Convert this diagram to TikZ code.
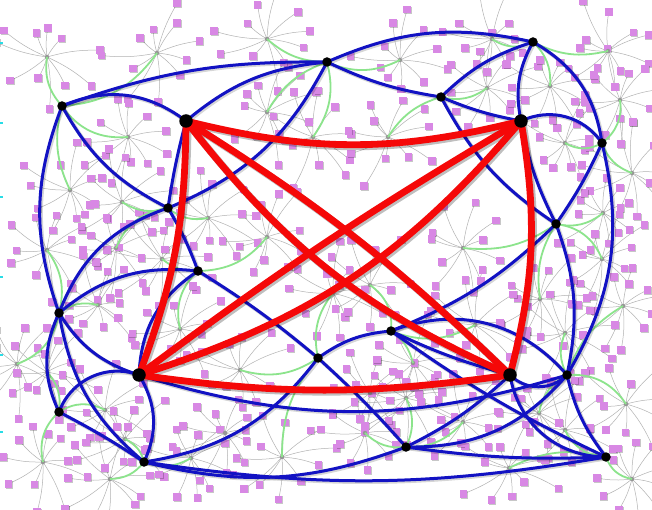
\documentclass[tikz,border=0pt]{standalone}
\usetikzlibrary{shadows}
\definecolor{sqpink}{RGB}{216,136,228}
\definecolor{bluE}{RGB}{18,18,195}
\definecolor{reD}{RGB}{245,8,8}
\definecolor{grn}{RGB}{140,228,140}
\definecolor{hubgray}{RGB}{150,150,150}
\definecolor{lgray}{RGB}{178,178,178}
\definecolor{tickc}{RGB}{40,220,230}
\begin{document}
\begin{tikzpicture}[x=1pt,y=1pt,
  hubline/.style={draw=lgray, line width=0.5pt},
  sq/.style={rectangle, fill=sqpink, minimum size=7.6pt, inner sep=0pt,
    drop shadow={shadow xshift=0.9pt, shadow yshift=-0.9pt, fill=black, opacity=0.22}},
  grnline/.style={draw=grn, line width=1.8pt},
  blueline/.style={draw=bluE, line width=3pt},
  blueshadow/.style={draw=black, opacity=0.16, line width=3.8pt},
  redline/.style={draw=reD, line width=6.8pt},
  redshadow/.style={draw=black, opacity=0.25, line width=7.4pt},
  dot/.style={circle, fill=black, minimum size=9.5pt, inner sep=0pt},
  bigdot/.style={circle, fill=black, minimum size=13.5pt, inner sep=0pt},
  hubdot/.style={circle, fill=hubgray, minimum size=4.5pt, inner sep=0pt}]
\useasboundingbox (0,-510) rectangle (652,0);
\fill[white] (0,-510) rectangle (652,0);
\clip (0,-510) rectangle (652,0);
\pgfmathsetseed{4711}
% hubs and their leaves (gray lines)
\foreach \hx/\hy [count=\i] in {47/57,157/53,128/137,267/39,400/60,267/112,313/137,388/137,492/39,608/51,
  487/88,550/86,620/100,565/143,70/190,122/202,47/250,116/248,162/259,208/218,
  98/305,180/329,267/237,333/293,370/285,463/248,603/213,632/173,602/259,540/299,
  623/306,475/325,565/333,17/364,47/372,105/410,125/439,43/462,110/479,191/458,
  240/370,225/433,282/457,365/433,370/393,406/398,413/363,539/413,565/430,463/422,
  509/468,626/404,632/479}{
  \coordinate (h\i) at (\hx,-\hy);
  \foreach \k in {1,...,11}{
    \pgfmathsetmacro\ang{\k*32.7+rnd*24}
    \pgfmathsetmacro\rad{20+rnd*36}
    \path (h\i) ++(\ang:\rad) coordinate (s\i-\k);
    \draw[hubline] (h\i) to[bend left=8] (s\i-\k);
  }
}
\foreach \i in {1,...,53}{
  \foreach \k in {1,...,11}{ \node[sq] (q\i-\k) at (s\i-\k) {}; }
}
\foreach \i in {1,...,53}{ \node[hubdot] (hd\i) at (h\i) {}; }
% cyan ticks at left edge
\foreach \y in {43,123,197,277,355,432}{ \fill[tickc] (0,-\y-1) rectangle (3,-\y+1); }
% main nodes
\coordinate (R1) at (186,-121);
\coordinate (R2) at (521,-121);
\coordinate (R3) at (139,-375);
\coordinate (R4) at (510,-375);
\coordinate (B1) at (62,-106);
\coordinate (B2) at (327,-62);
\coordinate (B3) at (533,-42);
\coordinate (B4) at (441,-97);
\coordinate (B5) at (602,-143);
\coordinate (B6) at (168,-208);
\coordinate (B7) at (198,-271);
\coordinate (B8) at (556,-224);
\coordinate (B9) at (59,-313);
\coordinate (B10) at (391,-331);
\coordinate (B11) at (318,-358);
\coordinate (B12) at (567,-375);
\coordinate (B13) at (59,-412);
\coordinate (B14) at (144,-462);
\coordinate (B15) at (406,-447);
\coordinate (B16) at (606,-457);
% green curves
\foreach \a/\b/\t in {h1/B1/-25,h2/B1/25,h3/B1/30,h4/B2/-20,h5/B2/25,h6/B2/20,h7/B2/-25,h8/B4/20,
  h9/B3/-30,h10/B3/20,h11/B4/25,h12/B3/-25,h13/B5/30,h14/B5/-30,h15/B1/20,h16/B6/-25,h18/B6/30,
  h17/B9/25,h19/B7/-20,h20/B6/25,h21/B9/-25,h22/B7/30,h23/B7/25,h24/B11/-25,h25/B10/30,h26/B8/-20,
  h27/B8/25,h29/B8/-30,h30/B8/20,h31/B12/-20,h28/B5/25,h32/B10/25,h33/B12/-25,h34/B9/-30,h35/B13/25,
  h36/B13/-30,h37/B14/25,h38/B13/30,h39/B14/-25,h40/B14/25,h41/B11/-25,h43/B11/20,h44/B15/-25,
  h46/B15/25,h47/B10/-20,h48/B12/25,h49/B16/-30,h50/B15/25,h51/B16/20,h52/B12/-30,h53/B16/30}{
  \draw[grnline] (\a) to[bend left=\t] (\b);
}
% blue edges
\def\blueedges{B1/B2/10,B1/R1/30,B1/B9/-20,B1/B6/-17,R1/B2/17,R1/B6/-3,B2/B3/18,B2/B4/-8,B2/B6/20,
  B3/B4/-13,B3/R2/-20,B3/B5/26,B4/R2/-6,B4/B8/-14,R2/B5/40,R2/B8/-8,B5/B8/5,B5/B12/22,B8/B10/11,
  B8/B12/16,B6/B7/5,B6/B9/-25,B7/B9/-23,B7/B11/4,B7/R3/-27,B9/R3/-20,B9/B13/-25,B9/B14/-20,
  B13/R3/45,B13/B14/3,R3/B14/28,R3/B12/-17,B14/B11/-22,B11/B15/3,B11/B10/15,B10/R4/-5,B10/B12/35,
  B10/B16/-5,R4/B12/-45,R4/B16/-40,R4/B15/8,B12/B16/-12,B12/B15/25,B15/B16/-5,B14/B15/-17,B14/B16/-9}
\begin{scope}[transform canvas={xshift=1.3pt,yshift=-1.3pt}]
\foreach \a/\b/\t in \blueedges { \draw[blueshadow] (\a) to[bend left=\t] (\b); }
\end{scope}
\foreach \a/\b/\t in \blueedges { \draw[blueline] (\a) to[bend left=\t] (\b); }
% red edges
\def\rededges{R1/R2/-14,R1/R3/10,R3/R4/-8,R2/R4/12,R1/R4/6,R1/R4/-14,R2/R3/16,R2/R3/-3}
\begin{scope}[transform canvas={xshift=1.8pt,yshift=-1.8pt}]
\foreach \a/\b/\t in \rededges { \draw[redshadow] (\a) to[bend left=\t] (\b); }
\end{scope}
\foreach \a/\b/\t in \rededges { \draw[redline] (\a) to[bend left=\t] (\b); }
% dots
\foreach \n in {R1,R2,R3,R4}{ \node[bigdot] (d\n) at (\n) {}; }
\foreach \n in {B1,B2,B3,B4,B5,B6,B7,B8,B9,B10,B11,B12,B13,B14,B15,B16}{ \node[dot] (d\n) at (\n) {}; }
\end{tikzpicture}
\end{document}
